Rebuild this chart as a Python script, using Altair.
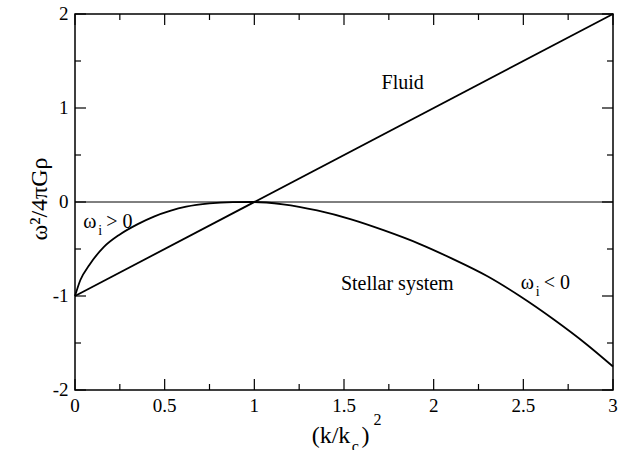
import altair as alt
import pandas as pd

# ---- data ----
fluid_x = [0.0, 3.0]
fluid_y = [-1.0, 2.0]

stellar_x = [0.0, 0.03, 0.08, 0.16, 0.25, 0.35, 0.44, 0.53, 0.62, 0.75, 0.88, 1.0,
             1.16, 1.35, 1.54, 1.72, 1.92, 2.1, 2.3, 2.48, 2.67, 2.85, 3.0]
stellar_y = [-1.0, -0.83, -0.67, -0.48, -0.345, -0.235, -0.155, -0.095, -0.05, -0.015, -0.002, 0.0,
             -0.025, -0.09, -0.185, -0.30, -0.445, -0.60, -0.79, -1.0, -1.25, -1.51, -1.75]

x_major = [0, 0.5, 1, 1.5, 2, 2.5, 3]
x_major_labels = ["0", "0.5", "1", "1.5", "2", "2.5", "3"]
x_minor = [0.25, 0.75, 1.25, 1.75, 2.25, 2.75]
y_major = [-2, -1, 0, 1, 2]
y_major_labels = ["-2", "-1", "0", "1", "2"]
y_minor = [-1.5, -0.5, 0.5, 1.5]

# annotations
label_text = ["Fluid", "Stellar system"]
label_x = [1.827, 1.797]
label_y = [1.20, -0.94]

omega_text = ["ω", "ω"]
omega_x = [0.046, 2.486]
omega_y = [-0.28, -0.93]
rel_text = ["> 0", "< 0"]

y_title = "ω²/4πGρ"
x_title_parts = ["(k/k", "c", ")", "2"]

FONT = "'Liberation Serif', Tinos, 'Times New Roman', Times, 'Nimbus Roman', 'DejaVu Serif', serif"
W, H = 538, 376

xs = alt.Scale(domain=[0, 3], nice=False, zero=False)
ys = alt.Scale(domain=[-2, 2], nice=False, zero=False)


def X(field):
    return alt.X(field, scale=xs, axis=None)


def Y(field):
    return alt.Y(field, scale=ys, axis=None)


df_fluid = pd.DataFrame({"x": fluid_x, "y": fluid_y})
df_stellar = pd.DataFrame({"x": stellar_x, "y": stellar_y})

zero = alt.Chart(pd.DataFrame({"y": [0]})).mark_rule(color="black", strokeWidth=1).encode(
    y=Y("y:Q")
)

fluid = alt.Chart(df_fluid).mark_line(color="black", strokeWidth=1.8).encode(
    x=X("x:Q"), y=Y("y:Q")
)

stellar = alt.Chart(df_stellar).mark_line(color="black", strokeWidth=1.8,
                                          interpolate="monotone").encode(
    x=X("x:Q"), y=Y("y:Q")
)

df_lab = pd.DataFrame({"t": label_text, "x": label_x, "y": label_y})
labels = alt.Chart(df_lab).mark_text(font=FONT, fontSize=20, color="black",
                                     align="center", baseline="alphabetic").encode(
    x=X("x:Q"), y=Y("y:Q"), text="t:N"
)

df_om = pd.DataFrame({"t": omega_text, "r": rel_text, "x": omega_x, "y": omega_y})
omega = alt.Chart(df_om).mark_text(font=FONT, fontSize=20, color="black",
                                   align="left", baseline="alphabetic").encode(
    x=X("x:Q"), y=Y("y:Q"), text="t:N"
)
sub_i = alt.Chart(df_om).mark_text(font=FONT, fontSize=14, color="black",
                                   align="left", baseline="alphabetic", dx=15, dy=7).encode(
    x=X("x:Q"), y=Y("y:Q"), text=alt.value("i")
)
rel = alt.Chart(df_om).mark_text(font=FONT, fontSize=20, color="black",
                                 align="left", baseline="alphabetic", dx=23).encode(
    x=X("x:Q"), y=Y("y:Q"), text="r:N"
)


# inward ticks on all four sides
def xticks(vals, length):
    d = pd.DataFrame({"v": vals})
    b = alt.Chart(d).mark_rule(color="black", strokeWidth=1.2).encode(
        x=X("v:Q"), y=alt.value(H), y2=alt.value(H - length))
    t = alt.Chart(d).mark_rule(color="black", strokeWidth=1.2).encode(
        x=X("v:Q"), y=alt.value(0), y2=alt.value(length))
    return [b, t]


def yticks(vals, length):
    d = pd.DataFrame({"v": vals})
    l = alt.Chart(d).mark_rule(color="black", strokeWidth=1.2).encode(
        y=Y("v:Q"), x=alt.value(0), x2=alt.value(length))
    r = alt.Chart(d).mark_rule(color="black", strokeWidth=1.2).encode(
        y=Y("v:Q"), x=alt.value(W), x2=alt.value(W - length))
    return [l, r]


ticks = xticks(x_major, 11) + xticks(x_minor, 6) + yticks(y_major, 11) + yticks(y_minor, 6)

# tick labels
xlab = alt.Chart(pd.DataFrame({"v": x_major, "t": x_major_labels})).mark_text(
    font=FONT, fontSize=19, color="black", align="center", baseline="alphabetic").encode(
    x=X("v:Q"), y=alt.value(H + 22), text="t:N")
ylab = alt.Chart(pd.DataFrame({"v": y_major, "t": y_major_labels})).mark_text(
    font=FONT, fontSize=19, color="black", align="right", baseline="middle").encode(
    y=Y("v:Q"), x=alt.value(-6.5), text="t:N")

one = pd.DataFrame({"a": [0]})
ytitle = alt.Chart(one).mark_text(font=FONT, fontSize=24, color="black", angle=270,
                                  align="center", baseline="alphabetic").encode(
    x=alt.value(-28), y=alt.value(185), text=alt.value(y_title))

xt0 = alt.Chart(one).mark_text(font=FONT, fontSize=24, color="black", align="left",
                               baseline="alphabetic").encode(
    x=alt.value(236.7), y=alt.value(429.3), text=alt.value(x_title_parts[0]))
xt1 = alt.Chart(one).mark_text(font=FONT, fontSize=16, color="black", align="left",
                               baseline="alphabetic").encode(
    x=alt.value(276.7), y=alt.value(437.5), text=alt.value(x_title_parts[1]))
xt2 = alt.Chart(one).mark_text(font=FONT, fontSize=24, color="black", align="left",
                               baseline="alphabetic").encode(
    x=alt.value(286.5), y=alt.value(429.3), text=alt.value(x_title_parts[2]))
xt3 = alt.Chart(one).mark_text(font=FONT, fontSize=16, color="black", align="left",
                               baseline="alphabetic").encode(
    x=alt.value(298.5), y=alt.value(410.5), text=alt.value(x_title_parts[3]))

chart = alt.layer(
    zero, fluid, stellar, labels, omega, sub_i, rel, *ticks, xlab, ylab,
    ytitle, xt0, xt1, xt2, xt3
).properties(
    width=W, height=H,
    padding={"left": 75, "top": 14, "right": 18, "bottom": 60},
    autosize="none",
    background="white",
).configure_view(stroke="black", strokeWidth=1.5)

chart.save("out.html", embed_options={"renderer": "svg", "actions": False})
